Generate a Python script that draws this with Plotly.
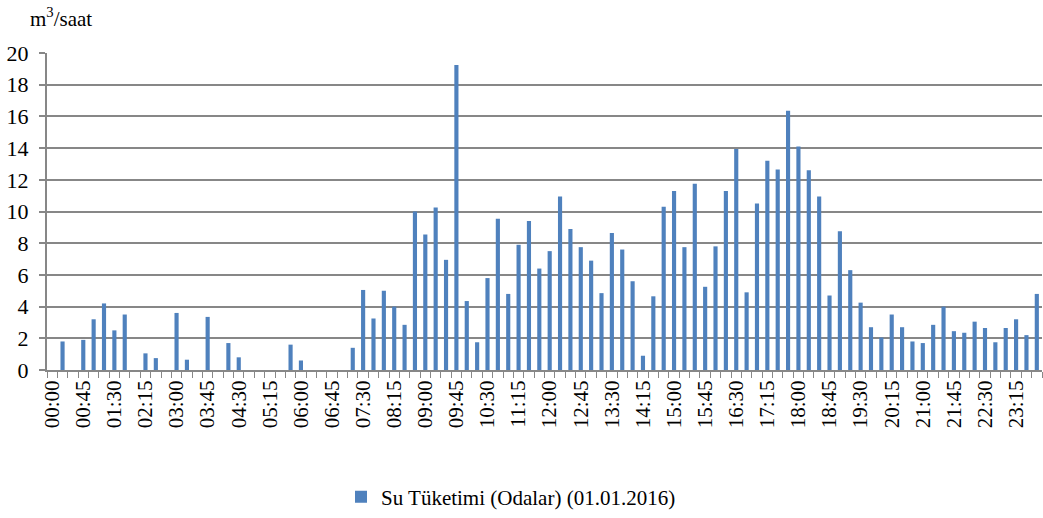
import plotly.graph_objects as go

# 15-minute time slots over the day
times = [f"{h:02d}:{m:02d}" for h in range(24) for m in (0, 15, 30, 45)]

# Room water consumption, m3/hour
consumption = [
    0, 1.8, 0, 1.9, 3.2, 4.2, 2.5, 3.5, 0, 1.05, 0.75, 0,
    3.6, 0.65, 0, 3.35, 0, 1.7, 0.8, 0, 0, 0, 0, 1.6,
    0.6, 0, 0, 0, 0, 1.4, 5.05, 3.25, 5.0, 4.0, 2.85, 10.0,
    8.55, 10.25, 6.95, 19.25, 4.35, 1.75, 5.8, 9.55, 4.8, 7.9, 9.4, 6.4,
    7.5, 10.95, 8.9, 7.75, 6.9, 4.85, 8.65, 7.6, 5.6, 0.9, 4.65, 10.3,
    11.3, 7.75, 11.75, 5.25, 7.8, 11.3, 13.95, 4.9, 10.5, 13.2, 12.65, 16.35,
    14.1, 12.6, 10.95, 4.7, 8.75, 6.3, 4.25, 2.7, 2.05, 3.5, 2.7, 1.8,
    1.7, 2.85, 4.0, 2.45, 2.35, 3.05, 2.65, 1.75, 2.65, 3.2, 2.2, 4.8,
]

# label every third slot, keep a tick at every slot boundary
tick_text = [t if i % 3 == 0 else "" for i, t in enumerate(times)]

series_name = "Su Tüketimi (Odalar) (01.01.2016)"
y_ticks = list(range(0, 21, 2))

FONT = "Liberation Serif, Times New Roman, serif"
GRID = "#878787"
BAR = "#4F81BD"

fig = go.Figure(
    go.Bar(
        x=times,
        y=consumption,
        name=series_name,
        marker=dict(color=BAR, line=dict(width=0)),
        showlegend=True,
    )
)

fig.update_layout(
    width=1043,
    height=518,
    margin=dict(l=47, r=1, t=53, b=148),
    paper_bgcolor="white",
    plot_bgcolor="white",
    bargap=0.6,
    font=dict(family=FONT, size=21, color="black"),
    legend=dict(
        orientation="h",
        xref="container",
        yref="container",
        x=341 / 1043,
        xanchor="left",
        y=1 - 497 / 518,
        yanchor="middle",
        font=dict(family=FONT, size=21, color="black"),
        itemwidth=30,
    ),
    annotations=[
        dict(
            text="m<sup>3</sup>/saat",
            xref="paper",
            yref="paper",
            x=0,
            xanchor="center",
            xshift=14,
            y=1,
            yanchor="bottom",
            yshift=20,
            showarrow=False,
            font=dict(family=FONT, size=21, color="black"),
        )
    ],
)

fig.update_xaxes(
    type="category",
    tickmode="array",
    tickvals=times,
    ticktext=tick_text,
    tickson="boundaries",
    ticks="outside",
    ticklen=6,
    tickwidth=1,
    tickcolor=GRID,
    tickangle=-90,
    tickfont=dict(family=FONT, size=21, color="black"),
    showline=True,
    linecolor=GRID,
    linewidth=2,
    showgrid=False,
    range=[-0.5, len(times) - 0.5],
)

fig.update_yaxes(
    range=[0, 20],
    tickvals=y_ticks,
    ticks="outside",
    ticklen=6,
    tickwidth=2,
    tickcolor=GRID,
    tickfont=dict(family=FONT, size=22, color="black"),
    showgrid=True,
    gridcolor=GRID,
    gridwidth=2,
    showline=True,
    linecolor=GRID,
    linewidth=2,
    zeroline=False,
    ticklabelstandoff=6,
)

fig.write_html("out.html")
